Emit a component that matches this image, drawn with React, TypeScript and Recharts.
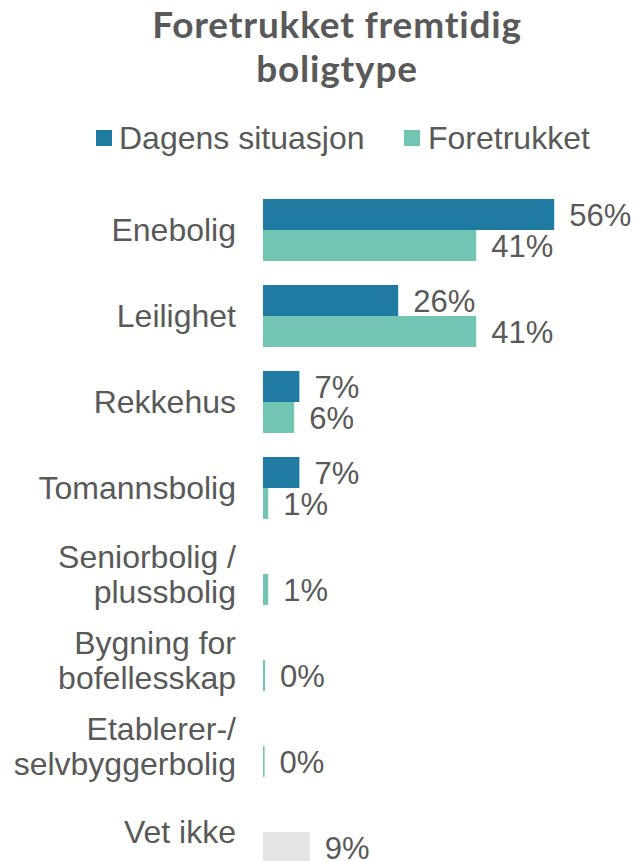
import React from 'react';
import { BarChart, Bar, XAxis, YAxis, Cell, LabelList } from 'recharts';

const categories = [
  'Enebolig',
  'Leilighet',
  'Rekkehus',
  'Tomannsbolig',
  'Seniorbolig /\nplussbolig',
  'Bygning for\nbofellesskap',
  'Etablerer-/\nselvbyggerbolig',
  'Vet ikke',
];
const dagensSituasjon: (number | null)[] = [56, 26, 7, 7, null, null, null, null];
const foretrukket: number[] = [41, 41, 6, 1, 1, 0.4, 0.3, 9];
const seriesNames = ['Dagens situasjon', 'Foretrukket'];

const DARK = '#1F7BA1';
const LIGHT = '#72C4B3';
const GREY = '#E4E4E4';
const TEXT = '#595959';
const FONT = '"Liberation Sans", Arial, sans-serif';

const chartData = categories.map((name, i) => ({
  name,
  dagens: dagensSituasjon[i],
  foretrukket: foretrukket[i],
}));

const fmt = (v: any) => (v === null || v === undefined ? '' : `${Math.round(Number(v))}%`);

// kategori-tekst over flere linjer
const CategoryTick = ({ x, y, payload }: any) => {
  const lines = String(payload.value).split('\n');
  const lh = 35;
  const start = -((lines.length - 1) * lh) / 2;
  return (
    <text x={x} y={y} textAnchor="end" fill={TEXT} fontSize={32} fontFamily={FONT} dominantBaseline="central">
      {lines.map((l, i) => (
        <tspan key={i} x={x} dy={i === 0 ? start : lh}>
          {l}
        </tspan>
      ))}
    </text>
  );
};

const titleStyle: React.CSSProperties = {
  position: 'absolute',
  left: 37,
  width: 600,
  textAlign: 'center',
  fontFamily: 'Lato, sans-serif',
  fontWeight: 700,
  fontSize: 37,
  letterSpacing: 0.8,
  lineHeight: '44px',
  color: TEXT,
  whiteSpace: 'nowrap',
};

const legendText: React.CSSProperties = {
  position: 'absolute',
  top: 118,
  height: 40,
  lineHeight: '40px',
  fontSize: 32,
  color: TEXT,
  whiteSpace: 'nowrap',
};

export default function App() {
  return (
    <div
      style={{
        position: 'absolute',
        left: 0,
        top: 0,
        width: 636,
        height: 861,
        overflow: 'hidden',
        fontFamily: FONT,
      }}
    >
      <div style={{ ...titleStyle, top: 2 }}>Foretrukket fremtidig</div>
      <div style={{ ...titleStyle, top: 46 }}>boligtype</div>

      {/* legend */}
      <div style={{ position: 'absolute', left: 96, top: 130, width: 16, height: 16, background: DARK }} />
      <div style={{ ...legendText, left: 119 }}>{seriesNames[0]}</div>
      <div style={{ position: 'absolute', left: 404, top: 130, width: 16, height: 16, background: LIGHT }} />
      <div style={{ ...legendText, left: 428 }}>{seriesNames[1]}</div>

      <div style={{ position: 'absolute', left: 0, top: 0 }}>
        <BarChart
          width={636}
          height={880}
          data={chartData}
          layout="vertical"
          margin={{ top: 187, right: 61, bottom: 5, left: 0 }}
          barCategoryGap={12}
          barGap={0}
        >
          <XAxis type="number" domain={[0, 60]} hide />
          <YAxis
            type="category"
            dataKey="name"
            width={263}
            tickLine={false}
            axisLine={false}
            tickSize={0}
            tickMargin={27}
            interval={0}
            tick={<CategoryTick />}
          />
          <Bar dataKey="dagens" name={seriesNames[0]} fill={DARK} isAnimationActive={false}>
            <LabelList dataKey="dagens" position="right" offset={15} formatter={fmt} fill={TEXT} fontSize={31} fontFamily={FONT} />
          </Bar>
          <Bar dataKey="foretrukket" name={seriesNames[1]} fill={LIGHT} isAnimationActive={false}>
            {chartData.map((d, i) => (
              <Cell key={i} fill={d.name === 'Vet ikke' ? GREY : LIGHT} />
            ))}
            <LabelList dataKey="foretrukket" position="right" offset={15} formatter={fmt} fill={TEXT} fontSize={31} fontFamily={FONT} />
          </Bar>
        </BarChart>
      </div>
    </div>
  );
}
